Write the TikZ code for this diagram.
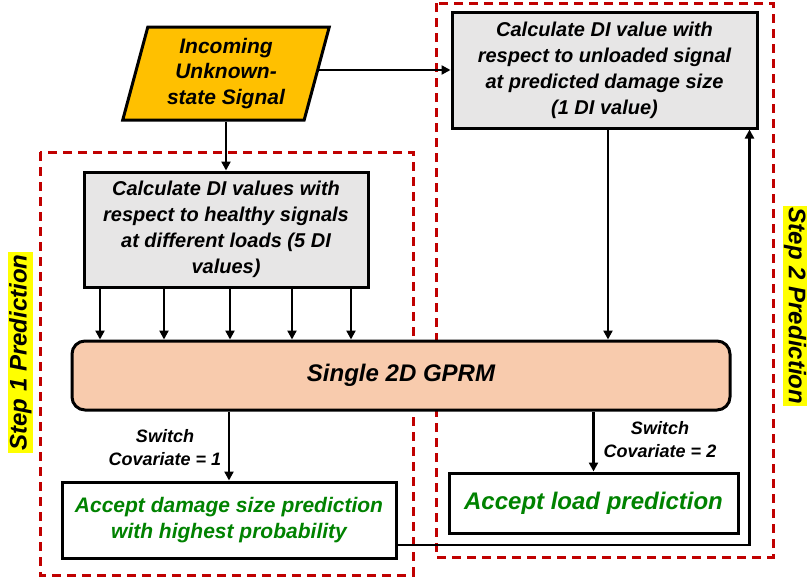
\documentclass[tikz,border=0pt]{standalone}
\usepackage{fontspec}
\setmainfont{Liberation Sans}
\definecolor{sigorange}{RGB}{255, 192, 0}
\definecolor{gprmpeach}{RGB}{248, 203, 173}
\definecolor{digray}{RGB}{231, 230, 230}
\definecolor{framered}{RGB}{192, 0, 0}
\definecolor{accgreen}{RGB}{0, 130, 0}
\definecolor{markyellow}{RGB}{255, 255, 0}
\usetikzlibrary{shapes.geometric, arrows.meta, positioning, calc}

\begin{document}
\begin{tikzpicture}[x=1pt, y=-1pt,
  arr/.style={line width=2.5pt, -{Triangle[length=9pt, width=9pt]}},
  stepframe/.style={framered, line width=3pt, dash pattern=on 9pt off 6pt},
  blockbox/.style={draw, line width=3pt, inner sep=0pt, align=center},
  dibox/.style={blockbox, fill=digray, font=\fontsize{20}{26}\selectfont\bfseries\itshape},
  accbox/.style={blockbox, fill=white, text=accgreen},
  steplabel/.style={fill=markyellow, inner xsep=2pt, inner ysep=1pt, font=\fontsize{24}{24}\selectfont\bfseries\itshape},
  switchlabel/.style={align=center, font=\fontsize{18}{23}\selectfont\bfseries\itshape}
]
  \useasboundingbox (0,0) rectangle (807,581);

  % Dashed step frames
  \draw[stepframe] (40,152) rectangle (413,575);
  \draw[stepframe] (436,3) rectangle (773,557);

  % Input signal
  \node[trapezium, trapezium left angle=75, trapezium right angle=105, trapezium stretches=true,
        draw, line width=3pt, fill=sigorange, minimum width=207pt, minimum height=93pt,
        inner sep=0pt, align=center, font=\fontsize{21}{25.5}\selectfont\bfseries\itshape]
        (sig) at (226,73.5) {Incoming\\Unknown-\\state Signal};

  % DI calculations
  \node[dibox, minimum width=284pt, minimum height=115pt] (di1) at (226,229.5)
    {Calculate DI values with\\respect to healthy signals\\at different loads (5 DI\\values)};
  \node[dibox, minimum width=305pt, minimum height=116pt] (di2) at (604.5,70)
    {Calculate DI value with\\respect to unloaded signal\\at predicted damage size\\(1 DI value)};

  % GPRM
  \node[blockbox, rounded corners=13pt, fill=gprmpeach, minimum width=658pt, minimum height=69pt,
        font=\fontsize{24}{24}\selectfont\bfseries\itshape] (gprm) at (401,375.5) {Single 2D GPRM};

  % Outputs
  \node[accbox, minimum width=334pt, minimum height=76pt, font=\fontsize{21}{26}\selectfont\bfseries\itshape]
    (acc1) at (229,520) {Accept damage size prediction\\with highest probability};
  \node[accbox, minimum width=289pt, minimum height=60pt, font=\fontsize{24}{24}\selectfont\bfseries\itshape]
    (acc2) at (593.5,503) {Accept load prediction};

  % Step labels
  \node[steplabel, rotate=90] (step1) at (20.5,352.5) {Step 1 Prediction};
  \node[steplabel, rotate=-90] (step2) at (795,306) {Step 2 Prediction};

  % Switch labels
  \node[switchlabel] (sw1) at (165,448) {Switch\\Covariate = 1};
  \node[switchlabel] (sw2) at (660,440) {Switch\\Covariate = 2};

  % Connectors
  \draw[arr] (sig) -- (di1);
  \draw[arr] (sig.east |- di2.west) -- (di2.west);
  \foreach \dx in {-126,-62,4,66,125}
    \draw[arr] ([xshift=\dx pt]di1.south) -- ([xshift=\dx pt]di1.south |- gprm.north);
  \draw[arr] ([xshift=3.5pt]di2.south) -- ([xshift=3.5pt]di2.south |- gprm.north);
  \draw[arr] (gprm.south -| acc1.north) -- (acc1.north);
  \draw[arr] (gprm.south -| acc2.north) -- (acc2.north);
  \draw[arr] ([yshift=-25pt]acc1.east) -| ([xshift=-9pt]di2.south east);
\end{tikzpicture}
\end{document}
